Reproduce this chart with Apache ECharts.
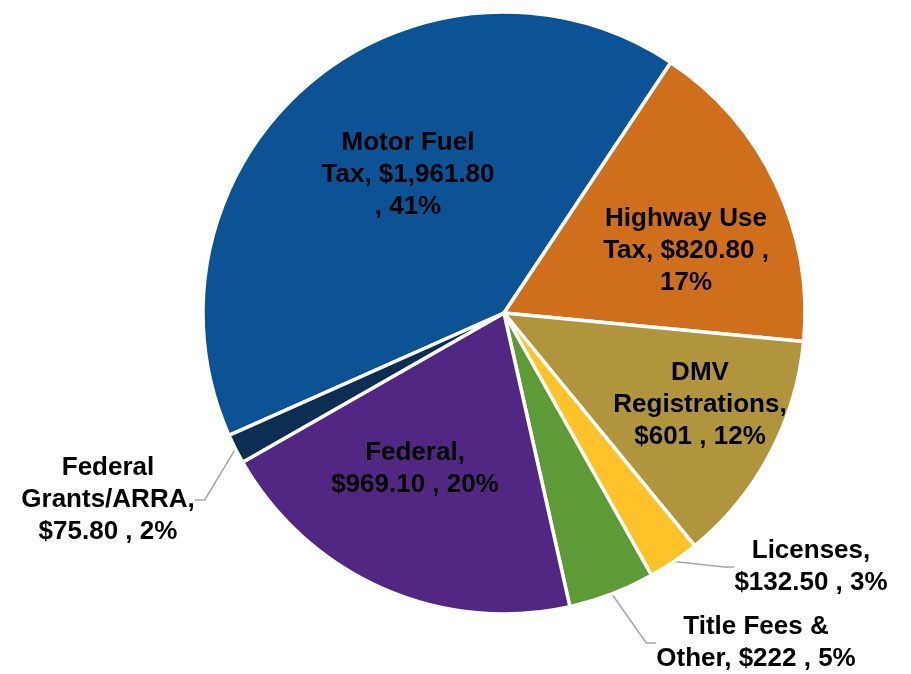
<!DOCTYPE html>
<html><head><meta charset="utf-8">
<script src="https://cdn.jsdelivr.net/npm/echarts@6/dist/echarts.min.js"></script>
<style>html,body{margin:0;padding:0;background:#fff}#c{width:911px;height:674px}</style>
</head><body><div id="c"></div>
<script>
const categories = ['Motor Fuel Tax', 'Highway Use Tax', 'DMV Registrations', 'Licenses', 'Title Fees & Other', 'Federal', 'Federal Grants/ARRA'];
const values = [1961.8, 820.8, 601, 132.5, 222, 969.1, 75.8];
const percents = [41, 17, 12, 3, 5, 20, 2];
const colors = ['#0B5394', '#D06F1B', '#B0953D', '#FFC229', '#5C9B36', '#522784', '#0E2D52'];
// word counts after which the label wraps
const breaks = [[2, 4], [2, 5], [1, 2], [1], [3], [1], [1, 2]];
const outside = [false, false, false, true, true, false, true];
const labelSpots = [[408, 175], [686, 251], [700, 405], [811, 567], [756, 643], [415, 469], [108, 500]];

function fmtMoney(v) {
  const s = Number.isInteger(v) ? String(v) : v.toFixed(2);
  const parts = s.split('.');
  parts[0] = parts[0].replace(/\B(?=(\d{3})+(?!\d))/g, ',');
  return '$' + parts.join('.');
}
function labelText(i) {
  const words = (categories[i] + ', ' + fmtMoney(values[i]) + ' , ' + percents[i] + '%').split(' ');
  let out = '';
  words.forEach((w, k) => {
    if (k > 0) out += breaks[i].includes(k) ? '\n' : ' ';
    out += w;
  });
  return out;
}

const data = categories.map((c, i) => ({
  name: c,
  value: values[i],
  itemStyle: { color: colors[i] },
  label: { position: outside[i] ? 'outside' : 'inside' },
  labelLine: { show: outside[i] }
}));

const chart = echarts.init(document.getElementById('c'), null, { renderer: 'canvas' });
chart.setOption({
  animation: false,
  series: [{
    type: 'pie',
    center: [504, 313],
    radius: [0, 301],
    startAngle: 204,
    clockwise: true,
    avoidLabelOverlap: false,
    minShowLabelAngle: 0,
    itemStyle: { borderColor: '#fff', borderWidth: 3.5 },
    label: {
      show: true,
      color: '#000',
      fontFamily: 'Liberation Sans, Arial, sans-serif',
      fontWeight: 'bold',
      fontSize: 26,
      lineHeight: 32,
      align: 'center',
      formatter: p => labelText(p.dataIndex)
    },
    labelLine: {
      show: true,
      length: 10,
      length2: 10,
      lineStyle: { color: '#A6A6A6', width: 1.5 }
    },
    labelLayout: p => {
      const s = labelSpots[p.dataIndex];
      return { x: s[0], y: s[1], align: 'center', verticalAlign: 'middle' };
    },
    emphasis: { disabled: true },
    data: data
  }]
});
</script>
</body></html>
